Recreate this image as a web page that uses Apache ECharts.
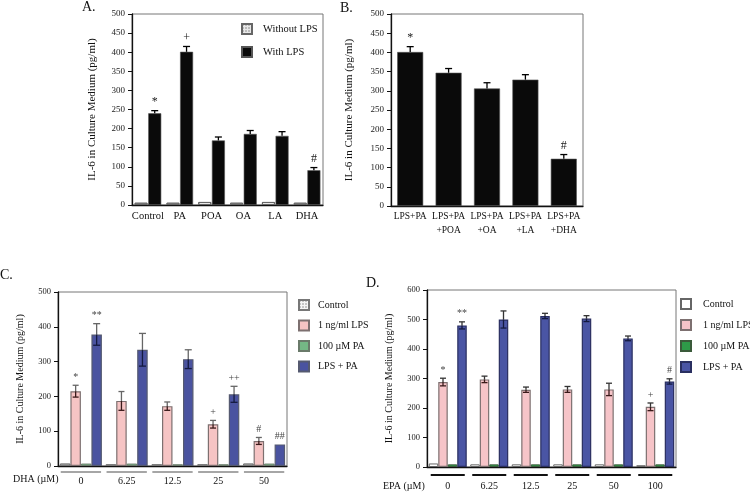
<!DOCTYPE html>
<html><head><meta charset="utf-8">
<script src="https://cdn.jsdelivr.net/npm/echarts@6/dist/echarts.min.js"></script>
<style>html,body{margin:0;padding:0;background:#fff}#c{width:750px;height:492px}</style>
</head><body><div id="c"></div>
<script>
// ---- Panel A ----
const catsA = ['Control','PA','POA','OA','LA','DHA'];
const noLpsA = [6,6,8,6,8,6];
const lpsA = [240,401,169,186,181,91];
const errA = [7,14,9,9,11,7];
const sigA = ['*','+','','','','#'];
// ---- Panel B ----
const catsB = ['LPS+PA','LPS+PA\n+POA','LPS+PA\n+OA','LPS+PA\n+LA','LPS+PA\n+DHA'];
const valsB = [401,347,306,329,123];
const errB = [14,11,15,13,11];
const sigB = ['*','','','','#'];
// ---- Panel C ----
const dosesC = ['0','6.25','12.5','25','50'];
const ctrlC = [7,5,5,5,7];
const lpsC = [215,187,172,120,72];
const lpsErrC = [17,27,12,11,10];
const paC = [7,7,5,5,7];
const bothC = [378,334,307,206,62];
const bothErrC = [31,47,27,23,0];
const sigLpsC = ['*','','','+','#'];
const sigBothC = ['**','','','++','##'];
// ---- Panel D ----
const dosesD = ['0','6.25','12.5','25','50','100'];
const ctrlD = [12,9,9,9,9,6];
const lpsD = [288,297,262,263,263,204];
const lpsErrD = [13,11,9,10,21,13];
const paD = [9,9,9,9,9,9];
const bothD = [480,500,512,503,436,290];
const bothErrD = [12,29,9,10,8,9];
const sigLpsD = ['*','','','','','+'];
const sigBothD = ['**','','','','','#'];
const ticksA = {min:0,max:500,interval:50};
const ticksC = {min:0,max:500,interval:100};
const ticksD = {min:0,max:600,interval:100};

const FF = '"Liberation Serif", "Times New Roman", serif';
const yName = 'IL-6 in Culture Medium (pg/ml)';

function errSeries(xi, yi, vals, errs, sigs, offset, o) {
  o = o || {};
  return {
    type:'custom', xAxisIndex:xi, yAxisIndex:yi, clip:false, silent:true, z:5,
    data: vals.map((v,i)=>[i,v]), encode:{x:0,y:1},
    renderItem: function(p, api){
      const i = p.dataIndex, v = vals[i], e = errs[i];
      const c = api.coord([i, v]);
      const x = c[0] + offset;
      const top = api.coord([i, v + e])[1];
      const low = api.coord([i, v - e])[1];
      const cw = o.cap || 3.5;
      const ch = [];
      if (e > 0) {
        ch.push({type:'line', shape:{x1:x,y1:c[1],x2:x,y2:top}, style:{stroke:o.up||'#000',lineWidth:o.lw||1.3}});
        ch.push({type:'line', shape:{x1:x-cw,y1:top,x2:x+cw,y2:top}, style:{stroke:o.up||'#000',lineWidth:o.lw||1.3}});
        if (o.low) {
          ch.push({type:'line', shape:{x1:x,y1:c[1],x2:x,y2:low}, style:{stroke:o.low,lineWidth:o.lw||1.3}});
          ch.push({type:'line', shape:{x1:x-cw,y1:low,x2:x+cw,y2:low}, style:{stroke:o.low,lineWidth:o.lw||1.3}});
        }
      }
      if (sigs[i]) {
        ch.push({type:'text', style:{text:sigs[i], x:x, y:top-(o.sgap||4), textAlign:'center', textVerticalAlign:'bottom',
          font:(o.sfs||11)+'px '+FF, fill:o.scol||'#222'}});
      }
      return {type:'group', children:ch};
    }
  };
}
function underSeries(xi, yi, cats, color, width, dy, frac) {
  return {
    type:'custom', xAxisIndex:xi, yAxisIndex:yi, clip:false, silent:true,
    data: cats.map((c,i)=>[i,0]), encode:{x:0,y:1},
    renderItem: function(p, api){
      const c = api.coord([api.value(0), 0]);
      const w = api.size([1,0])[0]*frac;
      return {type:'line', shape:{x1:c[0]-w/2,y1:c[1]+dy,x2:c[0]+w/2,y2:c[1]+dy}, style:{stroke:color,lineWidth:width}};
    }
  };
}
function yAx(gi, t, fs, nfs, gap) {
  return {type:'value', gridIndex:gi, min:t.min, max:t.max, interval:t.interval,
    name:yName, nameLocation:'middle', nameGap:gap, nameRotate:90,
    nameTextStyle:{fontFamily:FF, fontSize:nfs, color:'#111'},
    axisLine:{show:true, lineStyle:{color:'#111', width:1.3}},
    axisTick:{show:true, length:4, lineStyle:{color:'#111'}},
    axisLabel:{fontFamily:FF, fontSize:fs, color:'#222', margin:7},
    splitLine:{show:false}};
}
function xAx(gi, cats, fs, margin, lh) {
  return {type:'category', gridIndex:gi, data:cats,
    axisLine:{lineStyle:{color:'#111', width:1.3}}, axisTick:{show:false},
    axisLabel:{fontFamily:FF, fontSize:fs, color:'#111', margin:margin, lineHeight:lh||fs+2, interval:0}};
}
const dotDecal = {symbol:'circle', symbolSize:0.7, color:'rgba(60,60,60,0.7)', dashArrayX:[2,1], dashArrayY:[2,1]};
const gridBox = {show:true, borderColor:'#777', borderWidth:1, backgroundColor:'transparent'};

const option = {
  animation:false,
  backgroundColor:'#fff',
  textStyle:{fontFamily:FF},
  graphic:[
    {type:'text', left:82, top:0, style:{text:'A.', font:'14px '+FF, fill:'#111'}},
    {type:'text', left:340, top:1, style:{text:'B.', font:'14px '+FF, fill:'#111'}},
    {type:'text', left:0, top:268, style:{text:'C.', font:'14px '+FF, fill:'#111'}},
    {type:'text', left:366, top:276, style:{text:'D.', font:'14px '+FF, fill:'#111'}},
    {type:'text', left:13, top:474, style:{text:'DHA (µM)', font:'10px '+FF, fill:'#111'}},
    {type:'text', left:383, top:481, style:{text:'EPA (µM)', font:'10px '+FF, fill:'#111'}}
  ],
  grid:[
    Object.assign({left:132, top:14, width:191, height:191}, gridBox),
    Object.assign({left:391, top:14, width:192, height:192}, gridBox),
    Object.assign({left:58, top:292, width:229, height:174}, gridBox),
    Object.assign({left:427, top:290, width:249, height:179}, gridBox)
  ],
  legend:[
    {left:241, top:23, padding:0, orient:'vertical', itemWidth:10, itemHeight:10, itemGap:11, icon:'rect',
      data:['Without LPS','With LPS'], selectedMode:false,
      textStyle:{fontFamily:FF, fontSize:10.5, color:'#111', padding:[0,0,0,6]}},
    {left:298, top:299, padding:0, orient:'vertical', itemWidth:10, itemHeight:10, itemGap:8.5, icon:'rect',
      data:['Control','1 ng/ml LPS','100 µM PA','LPS + PA'], selectedMode:false,
      textStyle:{fontFamily:FF, fontSize:10, color:'#111', padding:[0,0,0,4]}},
    {left:680, top:298, padding:0, orient:'vertical', itemWidth:10, itemHeight:10, itemGap:9, icon:'rect',
      data:['Control ','1 ng/ml LPS ','100 µM PA ','LPS + PA '], selectedMode:false,
      textStyle:{fontFamily:FF, fontSize:10, color:'#111', padding:[0,0,0,7]}}
  ],
  xAxis:[
    xAx(0, catsA, 10.5, 5),
    xAx(1, catsB, 9.5, 3, 14),
    xAx(2, dosesC, 10, 9),
    xAx(3, dosesD, 10, 13)
  ],
  yAxis:[
    yAx(0, ticksA, 9, 11, 34),
    yAx(1, ticksA, 9, 11, 36),
    yAx(2, ticksC, 8.5, 10, 33),
    yAx(3, ticksD, 8.5, 10, 33)
  ],
  series:[
    {name:'Without LPS', type:'bar', xAxisIndex:0, yAxisIndex:0, data:noLpsA, barWidth:13, barGap:'5%',
      itemStyle:{color:'#e8e8e8', borderColor:'#666', borderWidth:1, decal:dotDecal}},
    {name:'With LPS', type:'bar', xAxisIndex:0, yAxisIndex:0, data:lpsA, barWidth:13, barGap:'5%',
      itemStyle:{color:'#0a0a0a', borderColor:'#555', borderWidth:0.6}},
    errSeries(0, 0, lpsA, errA, sigA, 6.8, {cap:3.5, sgap:3, sfs:12}),

    {name:'LPS+PA', type:'bar', xAxisIndex:1, yAxisIndex:1, data:valsB, barWidth:26,
      itemStyle:{color:'#0a0a0a', borderColor:'#555', borderWidth:0.6}},
    errSeries(1, 1, valsB, errB, sigB, 0, {cap:3.5, sgap:3, sfs:12}),

    {name:'Control', type:'bar', xAxisIndex:2, yAxisIndex:2, data:ctrlC, barWidth:10.5, barGap:'0%',
      itemStyle:{color:'#f4f4f4', borderColor:'#777', borderWidth:1, decal:dotDecal}},
    {name:'1 ng/ml LPS', type:'bar', xAxisIndex:2, yAxisIndex:2, data:lpsC, barWidth:10.5, barGap:'0%',
      itemStyle:{color:'#f6c4c4', borderColor:'#7d7070', borderWidth:1.2}},
    {name:'100 µM PA', type:'bar', xAxisIndex:2, yAxisIndex:2, data:paC, barWidth:10.5, barGap:'0%',
      itemStyle:{color:'#74b885', borderColor:'#6a7a6a', borderWidth:1}},
    {name:'LPS + PA', type:'bar', xAxisIndex:2, yAxisIndex:2, data:bothC, barWidth:10.5, barGap:'0%',
      itemStyle:{color:'#4a53a0', borderColor:'#555a70', borderWidth:1.2}},
    errSeries(2, 2, lpsC, lpsErrC, sigLpsC, -5.25, {up:'#666', low:'#3a1a1a', cap:3, sgap:3, sfs:10, scol:'#444'}),
    errSeries(2, 2, bothC, bothErrC, sigBothC, 15.75, {up:'#666', low:'#141a40', cap:3.5, sgap:3, sfs:10, scol:'#444'}),
    underSeries(2, 2, dosesC, '#888', 1.3, 6, 0.88),

    {name:'Control ', type:'bar', xAxisIndex:3, yAxisIndex:3, data:ctrlD, barWidth:9.5, barGap:'0%',
      itemStyle:{color:'#ffffff', borderColor:'#666', borderWidth:1}},
    {name:'1 ng/ml LPS ', type:'bar', xAxisIndex:3, yAxisIndex:3, data:lpsD, barWidth:9.5, barGap:'0%',
      itemStyle:{color:'#f6c4c8', borderColor:'#7d7070', borderWidth:1.2}},
    {name:'100 µM PA ', type:'bar', xAxisIndex:3, yAxisIndex:3, data:paD, barWidth:9.5, barGap:'0%',
      itemStyle:{color:'#2e9a48', borderColor:'#3a5a3a', borderWidth:1}},
    {name:'LPS + PA ', type:'bar', xAxisIndex:3, yAxisIndex:3, data:bothD, barWidth:9.5, barGap:'0%',
      itemStyle:{color:'#4a55a4', borderColor:'#2a2f60', borderWidth:1.2}},
    errSeries(3, 3, lpsD, lpsErrD, sigLpsD, -4.75, {up:'#333', low:'#3a1a1a', cap:3, sgap:3, sfs:10, scol:'#444'}),
    errSeries(3, 3, bothD, bothErrD, sigBothD, 14.25, {up:'#333', low:'#141a40', cap:3, sgap:3, sfs:10, scol:'#444'}),
    underSeries(3, 3, dosesD, '#111', 2, 8, 0.82)
  ]
};
const chart = echarts.init(document.getElementById('c'), null, {renderer:'canvas'});
chart.setOption(option);
</script></body></html>
